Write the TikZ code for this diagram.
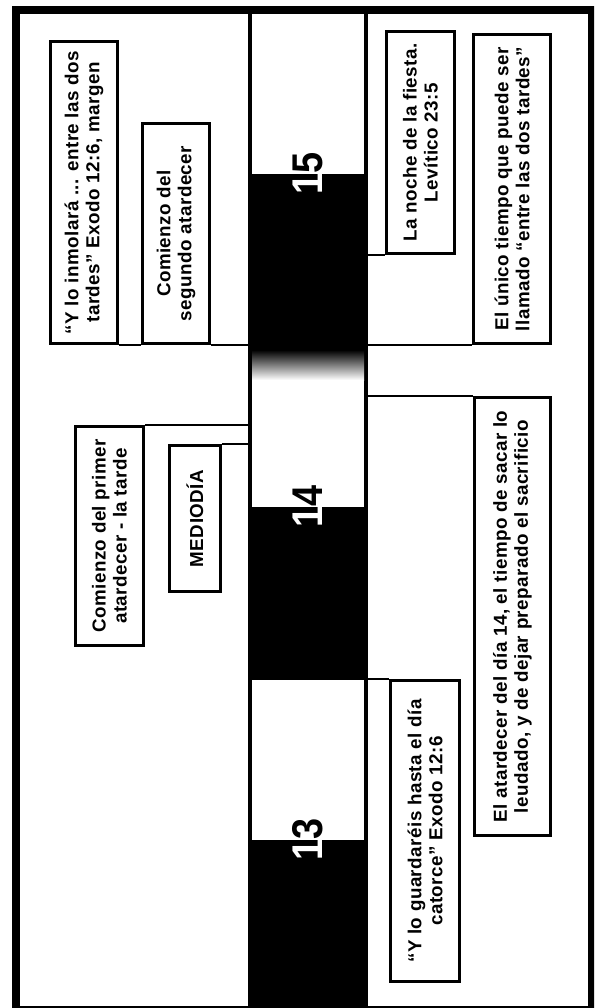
\documentclass[tikz,border=0pt]{standalone}
\usepackage{fontspec}
\setmainfont{Liberation Sans}
\newfontfamily\boxfont[LetterSpace=2.5]{Liberation Sans}
\newcommand{\daynum}[1]{\scalebox{0.88}[1]{#1}}
\begin{document}
\begin{tikzpicture}[x=1pt,y=-1pt,
  box/.style={draw=black, line width=2.6pt, fill=white, rotate=90, align=center,
    inner sep=0pt, font=\boxfont\bfseries\fontsize{18.8}{21}\selectfont},
  conn/.style={line width=2.2pt},
  num/.style={rotate=90, inner sep=0pt, font=\bfseries\fontsize{43}{43}\selectfont}]
\useasboundingbox (0,0) rectangle (594,1008);
\clip (0,0) rectangle (594,1008);
% frame
\fill[black] (12,6) rectangle (602,1016);
\fill[white] (20,14) rectangle (588,1006);
% timeline band
\node[fill=black, minimum width=120pt, minimum height=992pt, inner sep=0pt] (band) at (308,510) {};
\fill[white] (252,14) rectangle (364,174);
\shade[top color=black, bottom color=white] (252,350) rectangle (364,380);
\fill[white] (252,380) rectangle (364,507);
\fill[white] (252,680) rectangle (364,840);
% boxes
\node[box, minimum width=302pt, minimum height=67.5pt] (A) at (84,192.5)
  {“Y lo inmolará ... entre las dos\\tardes” Exodo 12:6, margen};
\node[box, minimum width=220pt, minimum height=67.5pt] (B) at (176,233.5)
  {Comienzo del\\segundo atardecer};
\node[box, minimum width=219pt, minimum height=68.5pt] (C) at (109.5,536)
  {Comienzo del primer\\atardecer - la tarde};
\node[box, minimum width=146pt, minimum height=51.5pt] (D) at (195,518.5)
  {MEDIODÍA};
\node[box, minimum width=222pt, minimum height=68.5pt] (N) at (420.5,142.5)
  {La noche de la fiesta.\\Levítico 23:5};
\node[box, minimum width=309pt, minimum height=77.5pt] (U) at (512,189)
  {El único tiempo que puede ser\\llamado “entre las dos tardes”};
\node[box, minimum width=438pt, minimum height=76.5pt] (E) at (512.5,616.5)
  {El atardecer del día 14, el tiempo de sacar lo\\leudado, y de dejar preparado el sacrificio};
\node[box, minimum width=301pt, minimum height=69.5pt] (F) at (425,831)
  {“Y lo guardaréis hasta el día\\catorce” Exodo 12:6};
% connectors
\draw[conn] (A.south west) -- (B.north west);
\draw[conn] (B.south west) -- (B.south west -| band.west);
\draw[conn] (C.south east) -- (C.south east -| band.west);
\draw[conn] (D.south east) -- (D.south east -| band.west);
\draw[conn] (N.north west -| band.east) -- (N.north west);
\draw[conn] (U.north west -| band.east) -- (U.north west);
\draw[conn] (E.north east -| band.east) -- (E.north east);
\draw[conn] (F.north east -| band.east) -- (F.north east);
% day numbers
\node[num] (n15) at (308,173) {\daynum{15}};
\node[num] (n14) at (308,506) {\daynum{14}};
\node[num] (n13) at (308,839) {\daynum{13}};
\begin{scope}
  \clip (252,174) rectangle (364,347) (252,507) rectangle (364,680) (252,840) rectangle (364,1006);
  \node[num, text=white] (w15) at (308,173) {\daynum{15}};
  \node[num, text=white] (w14) at (308,506) {\daynum{14}};
  \node[num, text=white] (w13) at (308,839) {\daynum{13}};
\end{scope}
\end{tikzpicture}
\end{document}
